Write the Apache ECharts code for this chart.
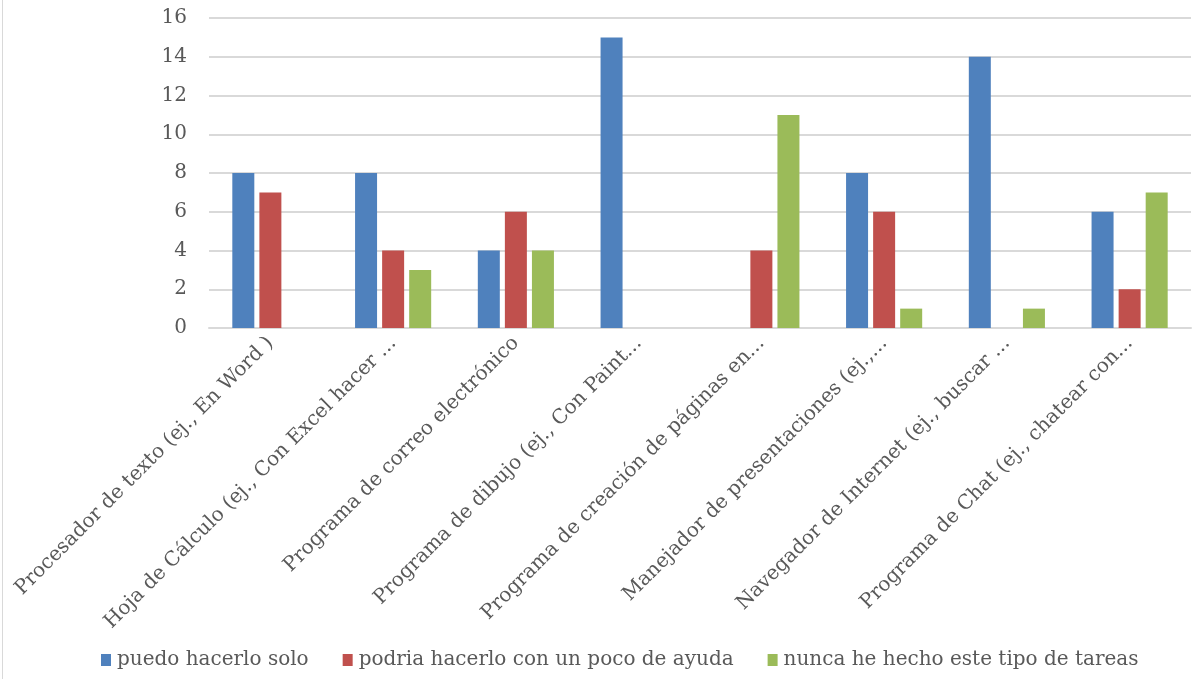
<!DOCTYPE html>
<html>
<head>
<meta charset="utf-8">
<script src="https://cdn.jsdelivr.net/npm/echarts@6/dist/echarts.min.js"></script>
<style>
  html, body { margin: 0; padding: 0; background: #fff; }
  #chart { position: absolute; left: 2px; top: 0; width: 1191px; height: 679px; border-left: 1px solid #d9d9d9; box-sizing: border-box; }
</style>
</head>
<body>
<div id="chart"></div>
<script>
// categorias (truncadas como en el original)
const categories = [
  'Procesador de texto (ej., En Word )',
  'Hoja de Cálculo (ej., Con Excel hacer ...',
  'Programa de correo electrónico',
  'Programa de dibujo (ej., Con Paint...',
  'Programa de creación de páginas en...',
  'Manejador de presentaciones (ej.,...',
  'Navegador de Internet (ej., buscar ...',
  'Programa de Chat (ej., chatear con...'
];
const seriesNames = ['puedo hacerlo solo', 'podria hacerlo con un poco de ayuda', 'nunca he hecho este tipo de tareas'];
const solo = [8, 8, 4, 15, 0, 8, 14, 6];
const conAyuda = [7, 4, 6, 0, 4, 6, 0, 2];
const nunca = [0, 3, 4, 0, 11, 1, 1, 7];
const yTicks = [0, 2, 4, 6, 8, 10, 12, 14, 16];

const colors = ['#4F81BD', '#C0504D', '#9BBB59'];
const font = 'DejaVu Serif';

const chart = echarts.init(document.getElementById('chart'));

function bar(name, data, i) {
  return {
    name: name,
    type: 'bar',
    data: data,
    barWidth: 22,
    barGap: '23%',
    itemStyle: { color: colors[i] },
    emphasis: { disabled: true }
  };
}

chart.setOption({
  animation: false,
  textStyle: { fontFamily: font },
  grid: { left: 206, right: 2, top: 18, bottom: 351, containLabel: false },
  legend: {
    bottom: 4,
    left: 93,
    itemWidth: 10,
    itemHeight: 12,
    itemGap: 34,
    icon: 'rect',
    textStyle: { fontFamily: font, fontSize: 20, color: '#595959', padding: [0, 0, 0, 1] },
    data: seriesNames
  },
  xAxis: {
    type: 'category',
    data: categories,
    axisLine: { lineStyle: { color: '#d9d9d9', width: 2 } },
    axisTick: { show: false },
    axisLabel: {
      rotate: 45,
      interval: 0,
      margin: 12,
      fontFamily: font,
      fontSize: 20,
      color: '#595959'
    }
  },
  yAxis: {
    type: 'value',
    min: yTicks[0],
    max: yTicks[yTicks.length - 1],
    interval: 2,
    axisLine: { show: false },
    axisTick: { show: false },
    splitLine: { lineStyle: { color: '#d9d9d9', width: 2 } },
    axisLabel: { margin: 22, fontFamily: font, fontSize: 20, color: '#595959' }
  },
  series: [
    bar(seriesNames[0], solo, 0),
    bar(seriesNames[1], conAyuda, 1),
    bar(seriesNames[2], nunca, 2)
  ]
});
</script>
</body>
</html>
